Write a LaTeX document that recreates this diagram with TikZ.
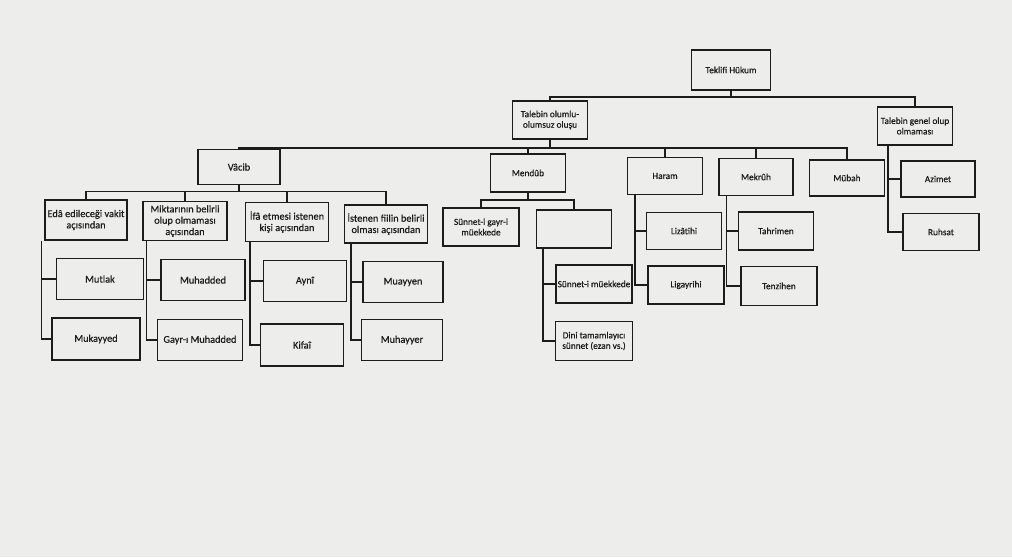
\documentclass[tikz,border=0pt]{standalone}
\usepackage{fontspec}
\setmainfont{Carlito}[FakeBold=0.6]
\usepackage{xcolor}
\usepackage{tikz}

\definecolor{paper}{RGB}{237,237,235}
\definecolor{ink}{RGB}{28,28,28}

\begin{document}
\begin{tikzpicture}[x=1pt, y=-1pt,
  box/.style={draw=ink, line width=1.5pt, minimum width=78pt, minimum height=38pt,
              align=center, inner sep=2pt, text=ink, font=\fontsize{9.3}{10.5}\selectfont},
  big/.style={font=\fontsize{10.3}{11.3}\selectfont},
  link/.style={draw=ink, line width=1.5pt}
]
  \fill[paper] (0,0) rectangle (1012,557);
  \useasboundingbox (0,0) rectangle (1012,557);

  % top levels
  \node[box, minimum width=79pt, minimum height=40pt] (teklifi) at (731,70) {Teklifi Hükum};
  \node[box, minimum width=75pt] (olumlu) at (550,120) {Talebin olumlu-\\olumsuz oluşu};
  \node[box, minimum width=75pt] (genel)  at (915,126) {Talebin genel olup\\olmaması};

  \node[box, big, minimum width=82pt, minimum height=35pt] (vacib) at (239,167) {Vâcib};
  \node[box, minimum width=75pt] (mendub) at (528,173) {Mendûb};
  \node[box, minimum width=75pt, minimum height=37pt] (haram)  at (665,176) {Haram};
  \node[box, minimum width=74pt, minimum height=37pt] (mekruh) at (756,177) {Mekrûh};
  \node[box, minimum width=75pt, minimum height=36pt] (mubah)  at (847,178) {Mübah};
  \node[box, minimum width=74pt, minimum height=36pt] (azimet) at (938,179) {Azimet};
  \node[box, minimum width=76pt, minimum height=37pt] (ruhsat) at (941,232) {Ruhsat};

  % vacib
  \node[box, big, minimum width=82pt, minimum height=40pt] (eda)     at (86,220)  {Edâ edileceği vakit\\açısından};
  \node[box, big, minimum width=84pt, minimum height=39pt] (miktar)  at (185,221) {Miktarının belirli\\olup olmaması\\açısından};
  \node[box, big, minimum width=83pt, minimum height=39pt] (ifa)     at (287,222) {İfâ etmesi istenen\\kişi açısından};
  \node[box, big, minimum width=83pt, minimum height=38pt] (istenen) at (386,224) {İstenen fiilin belirli\\olması açısından};

  \node[box, big, minimum width=87pt, minimum height=41pt] (mutlak)   at (100,279) {Mutlak};
  \node[box, big, minimum width=88pt, minimum height=42pt] (mukayyed) at (96,339)  {Mukayyed};
  \node[box, big, minimum width=84pt, minimum height=41pt] (muhadded) at (203,280) {Muhadded};
  \node[box, big, minimum width=85pt, minimum height=41pt] (gayri)    at (200,340) {Gayr-ı Muhadded};
  \node[box, big, minimum width=83pt, minimum height=41pt] (ayni)     at (305,281) {Aynî};
  \node[box, big, minimum width=83pt, minimum height=42pt] (kifai)    at (302,345) {Kifaî};
  \node[box, big, minimum width=80pt, minimum height=41pt] (muayyen)  at (403,282) {Muayyen};
  \node[box, big, minimum width=81pt, minimum height=41pt] (muhayyer) at (402,340) {Muhayyer};

  % mendub
  \node[box, minimum width=76pt] (gayrimuekkede) at (481,227) {Sünnet-i gayr-i\\müekkede};
  \node[box, minimum width=75pt] (bos)           at (574,229) {};
  \node[box, minimum width=76pt, inner sep=1pt] (muekkede) at (594,284) {Sünnet-i müekkede};
  \node[box, minimum width=77pt, minimum height=39pt] (dini) at (594,341) {Dini tamamlayıcı\\sünnet (ezan vs.)};

  % haram, mekruh
  \node[box, minimum width=75pt, minimum height=37pt] (lizatihi)  at (684,231) {Lizâtihi};
  \node[box, minimum width=76pt] (ligayrihi) at (686,285) {Ligayrihi};
  \node[box, minimum width=75pt] (tahrimen)  at (776,231) {Tahrimen};
  \node[box, minimum width=76pt, minimum height=39pt] (tenzihen) at (779,286) {Tenzihen};

  % connectors
  \draw[link] (teklifi.south) -- ++(0,6) -| (olumlu.north);
  \draw[link] (teklifi.south) -- ++(0,6) -| (genel.north);

  \draw[link] (olumlu.south) -- ++(0,8) -| (vacib.north);
  \draw[link] (olumlu.south) -- ++(0,8) -| (mendub.north);
  \draw[link] (olumlu.south) -- ++(0,8) -| (haram.north);
  \draw[link] (olumlu.south) -- ++(0,8) -| (mekruh.north);
  \draw[link] (olumlu.south) -- ++(0,8) -| (mubah.north);

  \draw[link] (vacib.south) -- ++(0,6) -| (eda.north);
  \draw[link] (vacib.south) -- ++(0,6) -| (miktar.north);
  \draw[link] (vacib.south) -- ++(0,6) -| (ifa.north);
  \draw[link] (vacib.south) -- ++(0,6) -| (istenen.north);

  \draw[link] (mendub.south) -- ++(0,7) -| (gayrimuekkede.north);
  \draw[link] (mendub.south) -- ++(0,7) -| (bos.north);

  \draw[link] ([xshift=-3pt]eda.south west) |- (mutlak);
  \draw[link] ([xshift=-3pt]eda.south west) |- (mukayyed);
  \draw[link] ([xshift=4pt]miktar.south west) |- (muhadded);
  \draw[link] ([xshift=4pt]miktar.south west) |- (gayri);
  \draw[link] ([xshift=5pt]ifa.south west) |- (ayni);
  \draw[link] ([xshift=5pt]ifa.south west) |- (kifai);
  \draw[link] ([xshift=7pt]istenen.south west) |- (muayyen);
  \draw[link] ([xshift=7pt]istenen.south west) |- (muhayyer);

  \draw[link] ([xshift=7pt]bos.south west) |- (muekkede);
  \draw[link] ([xshift=7pt]bos.south west) |- (dini);
  \draw[link] ([xshift=8pt]haram.south west) |- (lizatihi);
  \draw[link] ([xshift=8pt]haram.south west) |- (ligayrihi);
  \draw[link] ([xshift=8pt]mekruh.south west) |- (tahrimen);
  \draw[link] ([xshift=8pt]mekruh.south west) |- (tenzihen);
  \draw[link] ([xshift=11pt]genel.south west) |- (azimet);
  \draw[link] ([xshift=11pt]genel.south west) |- (ruhsat);
\end{tikzpicture}
\end{document}
